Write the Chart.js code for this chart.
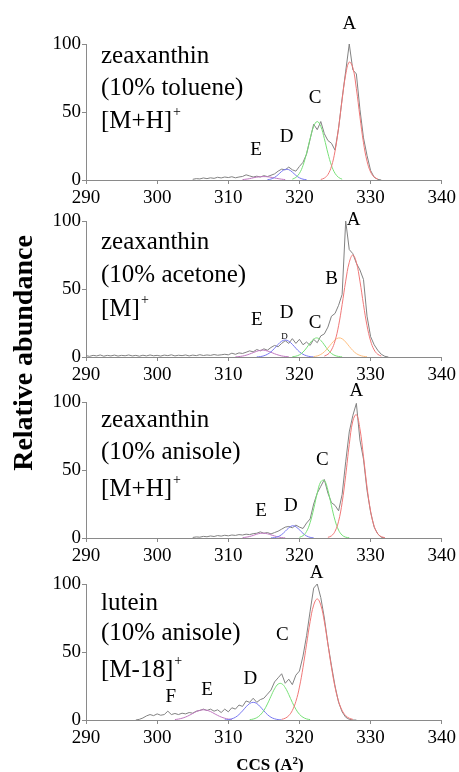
<!DOCTYPE html>
<html>
<head>
<meta charset="utf-8">
<script src="https://cdn.jsdelivr.net/npm/chart.js@4.4.1/dist/chart.umd.min.js"></script>
<style>
  body { margin: 0; background: #fff; width: 459px; height: 772px; position: relative; overflow: hidden; font-family: 'Liberation Serif', serif; }
  canvas { position: absolute; left: 0; }
  #ytitle { position: absolute; left: -127px; top: 337px; width: 300px; height: 32px; line-height: 32px; text-align: center;
            font: bold 28px 'Liberation Serif', serif; transform: rotate(-90deg); white-space: nowrap; }
  #xtitle { position: absolute; left: 170px; top: 755px; width: 200px; text-align: center; font: bold 17px 'Liberation Serif', serif; line-height: 20px; }
  #xtitle sup { font-size: 11px; vertical-align: 6px; line-height: 0; }
</style>
</head>
<body>
<canvas id="p0" width="459" height="196"></canvas>
<canvas id="p1" width="459" height="196"></canvas>
<canvas id="p2" width="459" height="196"></canvas>
<canvas id="p3" width="459" height="196"></canvas>
<div id="ytitle">Relative abundance</div>
<div id="xtitle">CCS (A<sup>2</sup>)</div>
<script>
// CCS grid shared by the four measured traces
const ccs = [290,290.5,291,291.5,292,292.5,293,293.5,294,294.5,295,295.5,296,296.5,297,297.5,298,298.5,299,299.5,
  300,300.5,301,301.5,302,302.5,303,303.5,304,304.5,305,305.5,306,306.5,307,307.5,308,308.5,309,309.5,
  310,310.5,311,311.5,312,312.5,313,313.5,314,314.5,315,315.5,316,316.5,317,317.5,318,318.5,319,319.5,
  320,320.5,321,321.5,322,322.5,323,323.5,324,324.5,325,325.5,326,326.5,327,327.5,328,328.5,329,329.5,
  330,330.5,331,331.5,332,332.5,333,333.5,334];

const N = null;
// zeaxanthin, 10% toluene, [M+H]+
const trace0 = [N,N,N,N,N,N,N,N,N,N,N,N,N,N,N,N,N,N,N,N,N,N,N,N,N,N,N,N,N,N,
  0.5,1,0.8,1.5,1,1.6,1.2,2,1.5,2.2,1.8,2.4,1.6,2.2,2.6,3.8,3,2.2,2.8,2.2,3.2,2.5,3.5,4.5,6.5,8,7.5,9.5,7.5,6.5,
  10,13,19,30,41,37,43,34,29,27,22,38,60,80,100,81,78,52,31,18,7,2,0.5,0,N,N,N,N,N];
// zeaxanthin, 10% acetone, [M]+
const trace1 = [1,0.5,1.2,0.8,1.5,0.6,1.2,0.8,1.4,0.7,1.2,0.9,1.5,0.8,1.2,0.6,1.3,0.8,1.5,0.9,
  1.2,0.7,1.4,1,1.6,0.8,1.3,1,1.5,0.8,1.4,1,1.7,1.1,1.5,1.2,1.8,1.3,1.6,2,
  1.6,2.8,2,3,2.6,3.5,4.5,3.8,5.5,4.5,6,5,7,8.5,7.5,10,12,10,13.5,10,
  13,9,11,8.5,13,10.5,15.5,17,22,30,32,38,46,100,79,76,69,64,57,30,
  15,9,5,2,0.5,0,N,N,N];
// zeaxanthin, 10% anisole, [M+H]+
const trace2 = [N,N,N,N,N,N,N,N,N,N,N,N,N,N,N,N,N,N,N,N,N,N,N,N,N,N,N,N,N,N,
  0.4,0.8,0.6,1.2,0.9,1.5,1.1,1.8,1.4,2,1.6,2.2,1.9,2.5,2.2,2.8,2.5,3.2,3.5,4.5,3.5,4,3,4,5,6.5,8,8.5,7.5,9.5,
  8,7,11,14,25,33,38,43,33,26,24,20,32,56,78,90,99,72,58,35,19,8,3,0.5,0,N,N,N,N];
// lutein, 10% anisole, [M-18]+
const trace3 = [N,N,N,N,N,N,N,N,N,N,N,N,N,N,
  0,0.5,1.5,3,4,3.2,4.5,3.5,4,6.5,4,4.8,4,5,4.5,5.5,5,6.5,7,8,7,8,6.5,7.5,5.5,8,
  6,9,8,11,10,14,13,16,13,15,16,19,22,28,31,34,27,30,26,33,36,47,62,80,97,100,90,75,56,40,25,13,6,2,0.5,0,0,
  N,N,N,N,N,N,N,N,N,N,N,N];

// Gaussian fit curves, [CCS, abundance]
const fit0A = [[323,0.4],[323.5,1.4],[324,4],[324.5,10],[325,21.2],[325.5,38.4],[326,59.1],[326.5,77.5],[327,86.7],[327.5,82.7],[328,67.1],[328.5,46.5],[329,27.4],[329.5,13.8],[330,5.9],[330.5,2.2],[331,0.7]];
const fit0C = [[319,0.6],[319.5,1.9],[320,4.9],[320.5,10.7],[321,19.7],[321.5,30.4],[322,39.4],[322.5,43],[323,39.4],[323.5,30.4],[324,19.7],[324.5,10.7],[325,4.9],[325.5,1.9],[326,0.6]];
const fit0D = [[315.5,0.2],[316,0.7],[316.5,1.9],[317,3.9],[317.5,6.3],[318,7.8],[318.5,7.6],[319,5.8],[319.5,3.4],[320,1.6],[320.5,0.6],[321,0.2]];
const fit0E = [[312,0.3],[312.5,0.6],[313,1],[313.5,1.6],[314,2.1],[314.5,2.4],[315,2.5],[315.5,2.4],[316,2],[316.5,1.5],[317,1],[317.5,0.6],[318,0.3]];

const fit1A = [[323.5,0.7],[324,2],[324.5,5.2],[325,11.8],[325.5,23],[326,38.5],[326.5,55.8],[327,69.6],[327.5,75],[328,69.6],[328.5,55.8],[329,38.5],[329.5,23],[330,11.8],[330.5,5.2],[331,2],[331.5,0.7]];
const fit1B = [[322,0.3],[322.5,0.8],[323,1.9],[323.5,3.8],[324,6.6],[324.5,9.8],[325,12.6],[325.5,14],[326,13.4],[326.5,11],[327,7.8],[327.5,4.8],[328,2.5],[328.5,1.2],[329,0.5],[329.5,0.2]];
const fit1C = [[319,0.2],[319.5,0.6],[320,1.6],[320.5,3.6],[321,6.7],[321.5,10.3],[322,13.2],[322.5,14],[323,12.2],[323.5,8.9],[324,5.3],[324.5,2.6],[325,1.1],[325.5,0.4],[326,0.1]];
const fit1D = [[314,0.1],[314.5,0.3],[315,0.9],[315.5,2],[316,3.8],[316.5,6.4],[317,9.3],[317.5,11.6],[318,12.5],[318.5,11.6],[319,9.3],[319.5,6.4],[320,3.8],[320.5,2],[321,0.9],[321.5,0.3],[322,0.1]];
const fit1E = [[311,0.1],[311.5,0.3],[312,0.7],[312.5,1.3],[313,2.2],[313.5,3.2],[314,4.2],[314.5,4.9],[315,5],[315.5,4.4],[316,3.5],[316.5,2.4],[317,1.5],[317.5,0.8],[318,0.4],[318.5,0.15]];

const fit2A = [[324,0.5],[324.5,1.6],[325,4.9],[325.5,12.3],[326,26],[326.5,46],[327,68.7],[327.5,86],[328,90.7],[328.5,80.3],[329,59.8],[329.5,37.4],[330,19.7],[330.5,8.7],[331,3.2],[331.5,1],[332,0.3]];
const fit2C = [[320,0.5],[320.5,1.7],[321,4.8],[321.5,11.3],[322,21.4],[322.5,33],[323,41.4],[323.5,42.3],[324,35.1],[324.5,23.7],[325,13],[325.5,5.8],[326,2.1],[326.5,0.6],[327,0.2]];
const fit2D = [[316,0.1],[316.5,0.3],[317,1],[317.5,2.5],[318,4.9],[318.5,7.5],[319,9],[319.5,8.3],[320,6],[320.5,3.4],[321,1.5],[321.5,0.5],[322,0.1]];
const fit2E = [[312,0.2],[312.5,0.6],[313,1.1],[313.5,1.9],[314,2.8],[314.5,3.4],[315,3.5],[315.5,3.1],[316,2.3],[316.5,1.5],[317,0.8],[317.5,0.3],[318,0.1]];

const fit3A = [[317.5,0.5],[318,1.3],[318.5,3.2],[319,7],[319.5,13.7],[320,24.2],[320.5,38.7],[321,55.7],[321.5,72.3],[322,84.5],[322.5,89],[323,84.5],[323.5,72.3],[324,55.7],[324.5,38.7],[325,24.2],[325.5,13.7],[326,7],[326.5,3.2],[327,1.3],[327.5,0.5]];
const fit3C = [[313,0.2],[313.5,0.7],[314,1.7],[314.5,3.7],[315,7],[315.5,11.8],[316,17.5],[316.5,22.9],[317,26.4],[317.5,26.7],[318,23.8],[318.5,18.7],[319,12.9],[319.5,7.9],[320,4.2],[320.5,2],[321,0.8],[321.5,0.3]];
const fit3D = [[309.5,0.1],[310,0.3],[310.5,0.9],[311,2],[311.5,4],[312,6.7],[312.5,9.7],[313,12.1],[313.5,13],[314,12.1],[314.5,9.7],[315,6.7],[315.5,4],[316,2],[316.5,0.9],[317,0.3],[317.5,0.1]];
const fit3E = [[302.5,0.3],[303,0.7],[303.5,1.3],[304,2.2],[304.5,3.4],[305,4.8],[305.5,6.2],[306,7.1],[306.5,7.5],[307,7.1],[307.5,6.2],[308,4.8],[308.5,3.4],[309,2.2],[309.5,1.3],[310,0.7],[310.5,0.3]];

const xTicks = [290, 300, 310, 320, 330, 340];
const yTicks = [0, 50, 100];

const notes = [
  ['zeaxanthin', '(10% toluene)', '[M+H]'],
  ['zeaxanthin', '(10% acetone)', '[M]'],
  ['zeaxanthin', '(10% anisole)', '[M+H]'],
  ['lutein', '(10% anisole)', '[M-18]']
];

// peak letters: [letter, CCS, abundance]
const peaks = [
  [['A', 327.0, 114.7], ['C', 322.2, 60.3], ['D', 318.2, 31.6], ['E', 313.9, 22]],
  [['A', 327.6, 101], ['B', 324.5, 57], ['C', 322.2, 25.2], ['D', 318.2, 32], ['E', 314, 27]],
  [['A', 328, 107.8], ['C', 323.2, 57], ['D', 318.8, 23.2], ['E', 314.6, 19.6]],
  [['A', 322.4, 108], ['C', 317.6, 62.3], ['D', 313.1, 30.4], ['E', 307, 22.3], ['F', 301.9, 17]]
];
const tinyLabel = ['D', 317.9, 15];   // small stray "D" on the acetone panel

const panels = [
  { trace: trace0, fits: [fit0A, fit0C, fit0D, fit0E], cols: ['#f07878', '#78e078', '#7878f0', '#c078c0'] },
  { trace: trace1, fits: [fit1A, fit1B, fit1C, fit1D, fit1E], cols: ['#f07878', '#ffbf80', '#78e078', '#7878f0', '#c078c0'] },
  { trace: trace2, fits: [fit2A, fit2C, fit2D, fit2E], cols: ['#f07878', '#78e078', '#7878f0', '#c078c0'] },
  { trace: trace3, fits: [fit3A, fit3C, fit3D, fit3E], cols: ['#f07878', '#78e078', '#7878f0', '#c078c0'] }
];

// layout of the four stacked panels (pixel rows of the 100 lines)
const plotTop = [44, 221, 402, 584];
const noteRows = [[19, 51, 84], [28, 61, 95], [25, 57, 94], [26, 56, 93]];
const PAD_TOP = 30;
const SERIF = "'Liberation Serif', serif";
const AXIS = '#8a8a8a';

function labelsPlugin(p) {
  return {
    id: 'labels' + p,
    afterDraw(chart) {
      const ctx = chart.ctx, xs = chart.scales.x, ys = chart.scales.y;
      ctx.save();
      ctx.fillStyle = '#000';
      ctx.textAlign = 'left';
      ctx.textBaseline = 'alphabetic';
      const left = chart.chartArea.left + 15, top = chart.chartArea.top;
      notes[p].forEach((t, i) => {
        ctx.font = '25px ' + SERIF;
        ctx.fillText(t, left, top + noteRows[p][i]);
        if (i === 2) {
          const w = ctx.measureText(t).width;
          ctx.font = '14px ' + SERIF;
          ctx.fillText('+', left + w + 1, top + noteRows[p][i] - 12);
        }
      });
      ctx.textAlign = 'center';
      ctx.textBaseline = 'middle';
      ctx.font = '19px ' + SERIF;
      peaks[p].forEach(([t, x, y]) => ctx.fillText(t, xs.getPixelForValue(x), ys.getPixelForValue(y)));
      if (p === 1) {
        ctx.font = '9px ' + SERIF;
        ctx.fillText(tinyLabel[0], xs.getPixelForValue(tinyLabel[1]), ys.getPixelForValue(tinyLabel[2]));
      }
      ctx.restore();
    }
  };
}

panels.forEach((pan, p) => {
  const cv = document.getElementById('p' + p);
  cv.style.top = (plotTop[p] - PAD_TOP) + 'px';
  const datasets = pan.fits.map((f, i) => ({
    data: f.map(([x, y]) => ({ x, y })),
    borderColor: pan.cols[i],
    borderWidth: 1,
    pointRadius: 0,
    tension: 0.4,
    fill: false
  }));
  datasets.push({
    data: ccs.map((x, i) => ({ x, y: pan.trace[i] })),
    borderColor: '#828282',
    borderWidth: 1,
    pointRadius: 0,
    tension: 0,
    spanGaps: false,
    fill: false
  });
  new Chart(cv, {
    type: 'line',
    data: { datasets },
    plugins: [labelsPlugin(p)],
    options: {
      responsive: false,
      animation: false,
      events: [],
      layout: { padding: { top: PAD_TOP, right: 16, left: 0, bottom: 0 } },
      plugins: { legend: { display: false }, tooltip: { enabled: false } },
      scales: {
        x: {
          type: 'linear', min: 290, max: 340,
          afterBuildTicks: s => { s.ticks = xTicks.map(v => ({ value: v })); },
          afterFit: s => { s.height = 30; },
          grid: { drawOnChartArea: false, drawTicks: true, tickLength: 4, color: AXIS },
          border: { color: AXIS, width: 1 },
          ticks: { color: '#000', font: { family: SERIF, size: 19 }, padding: 3, maxRotation: 0 }
        },
        y: {
          min: 0, max: 100,
          afterBuildTicks: s => { s.ticks = yTicks.map(v => ({ value: v })); },
          afterFit: s => { s.width = 86; },
          grid: { drawOnChartArea: false, drawTicks: true, tickLength: 4, color: AXIS },
          border: { color: AXIS, width: 1 },
          ticks: { color: '#000', font: { family: SERIF, size: 19 }, padding: 1 }
        }
      }
    }
  });
});
</script>
</body>
</html>
